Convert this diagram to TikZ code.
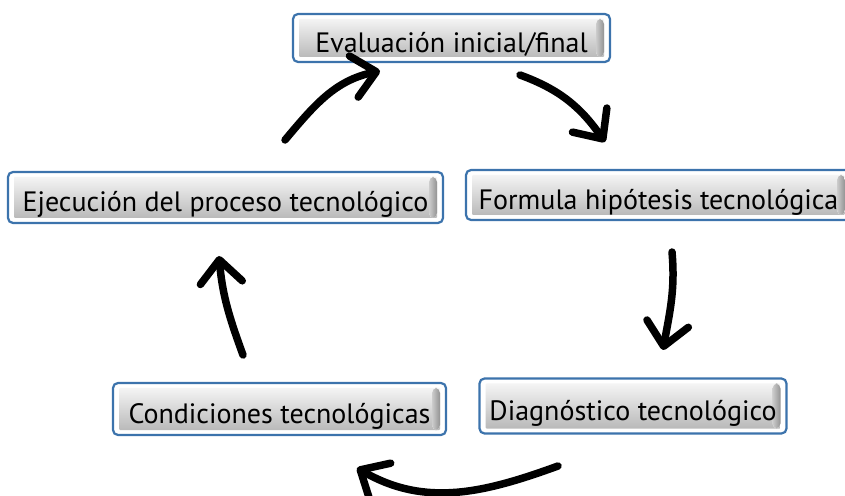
\documentclass[tikz,border=0pt]{standalone}
\usepackage{fontspec}
\setmainfont{PT Sans}
\usetikzlibrary{arrows.meta}

\definecolor{frameblue}{RGB}{60,115,172}

\tikzset{
  btn/.style={draw=frameblue, line width=2.2pt, rounded corners=5pt, fill=white,
    inner xsep=8pt, inner ysep=0pt, text height=29pt, text depth=0pt,
    font=\fontsize{28}{30}\selectfont,
    path picture={
      \fill[top color=gray!3, bottom color=gray!60, rounded corners=1pt]
        ([shift={(6pt,-5pt)}]path picture bounding box.north west) rectangle
        ([shift={(-6pt,5pt)}]path picture bounding box.south east);
      \fill[left color=gray!40, right color=gray!85]
        ([shift={(-14pt,-5pt)}]path picture bounding box.north east) rectangle
        ([shift={(-6pt,5pt)}]path picture bounding box.south east);
    }},
  cyc/.style={line width=7.5pt, line cap=round,
    -{Straight Barb[length=23pt,width=42pt,round]}}
}

\begin{document}
\begin{tikzpicture}[x=1pt,y=1pt]
  \useasboundingbox (0,0) rectangle (845,495);

  % the five steps
  \node[btn, minimum width=317pt, minimum height=48pt] (eval) at (451.5,457) {Evaluación inicial/final};
  \node[btn, minimum width=385pt, minimum height=50pt] (form) at (658.5,300) {Formula hipótesis tecnológica};
  \node[btn, minimum width=307pt, minimum height=55pt] (diag) at (633,89) {Diagnóstico tecnológico};
  \node[btn, minimum width=333pt, minimum height=52pt] (cond) at (279.5,86) {Condiciones tecnológicas};
  \node[btn, minimum width=435pt, minimum height=51pt] (ejec) at (225.5,297.5) {Ejecución del proceso tecnológico};

  % arrow ends
  \coordinate (a1) at (285,355); \coordinate (b1) at (380,424);
  \coordinate (a2) at (520,420); \coordinate (b2) at (605,353);
  \coordinate (a3) at (672,243); \coordinate (b3) at (663,145);
  \coordinate (a4) at (558,29);  \coordinate (b4) at (357,27);
  \coordinate (a5) at (243,140); \coordinate (b5) at (219,239);

  \draw[cyc] (a1) to[out=50,in=192] (b1);
  \draw[cyc] (a2) to[out=-20,in=125] (b2);
  \draw[cyc] (a3) to[out=-85,in=80] (b3);
  \draw[cyc] (a4) to[out=200,in=-30] (b4);
  \draw[cyc] (a5) to[out=110,in=-85] (b5);
\end{tikzpicture}
\end{document}
